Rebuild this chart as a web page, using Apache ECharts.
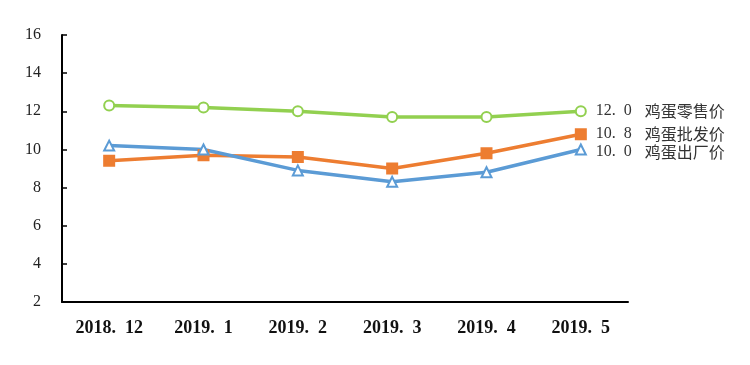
<!DOCTYPE html>
<html>
<head>
<meta charset="utf-8">
<script src="https://cdn.jsdelivr.net/npm/echarts@6/dist/echarts.min.js"></script>
<style>html,body{margin:0;padding:0;background:#fff}#c{width:750px;height:365px}</style>
</head>
<body>
<div id="c"></div>
<script>
const categories = ['2018.12', '2019.1', '2019.2', '2019.3', '2019.4', '2019.5'];
const retail = [12.3, 12.2, 12.0, 11.7, 11.7, 12.0];
const wholesale = [9.4, 9.7, 9.6, 9.0, 9.8, 10.8];
const factory = [10.2, 10.0, 8.9, 8.3, 8.8, 10.0];
const seriesNames = ['鸡蛋零售价', '鸡蛋批发价', '鸡蛋出厂价'];

const serif = '"Liberation Serif", "DejaVu Serif", "Noto Sans CJK SC", serif';
const chart = echarts.init(document.getElementById('c'));
const spacedDot = (s, sp) => String(s).replace('.', '.' + sp);

function mk(name, data, color, symbol, filled, offsetY) {
  return {
    name: name, type: 'line', data: data,
    symbol: symbol, symbolSize: 10,
    lineStyle: { color: color, width: 3.5 },
    itemStyle: { color: filled ? color : '#fff', borderColor: color, borderWidth: 2 },
    emphasis: { disabled: true },
    endLabel: {
      show: true, distance: 15, offset: [0, offsetY],
      formatter: p => '{n|' + spacedDot(p.value.toFixed(1), '\u2002') + '}{s|' + p.seriesName + '}',
      rich: {
        n: { fontFamily: serif, fontSize: 16, color: '#333', width: 49, verticalAlign: 'middle', lineHeight: 18 },
        s: { fontFamily: '"Noto Sans CJK SC", sans-serif', fontSize: 16, color: '#333', verticalAlign: 'middle', lineHeight: 18 }
      }
    }
  };
}

chart.setOption({
  animation: false,
  grid: { left: 62, right: 122, top: 35, bottom: 63 },
  xAxis: {
    type: 'category', data: categories, boundaryGap: true,
    axisLine: { lineStyle: { color: '#000', width: 2 } },
    axisTick: { inside: true, length: 6, lineStyle: { color: '#000', width: 1.5 } },
    axisLabel: { margin: 17, fontFamily: serif, fontSize: 18, fontWeight: 'bold', color: '#111', formatter: v => spacedDot(v, '\u2002') }
  },
  yAxis: {
    type: 'value', min: 2, max: 16, interval: 2,
    splitLine: { show: false },
    axisLine: { show: true, lineStyle: { color: '#000', width: 2 } },
    axisTick: { show: true, inside: true, length: 5, lineStyle: { color: '#000', width: 1.5 } },
    axisLabel: { margin: 21, fontFamily: serif, fontSize: 16, color: '#222' }
  },
  series: [
    mk(seriesNames[0], retail, '#92D050', 'circle', false, 0),
    mk(seriesNames[1], wholesale, '#ED7D31', 'rect', true, 0),
    mk(seriesNames[2], factory, '#5B9BD5', 'triangle', false, 2)
  ]
});
</script>
</body>
</html>
